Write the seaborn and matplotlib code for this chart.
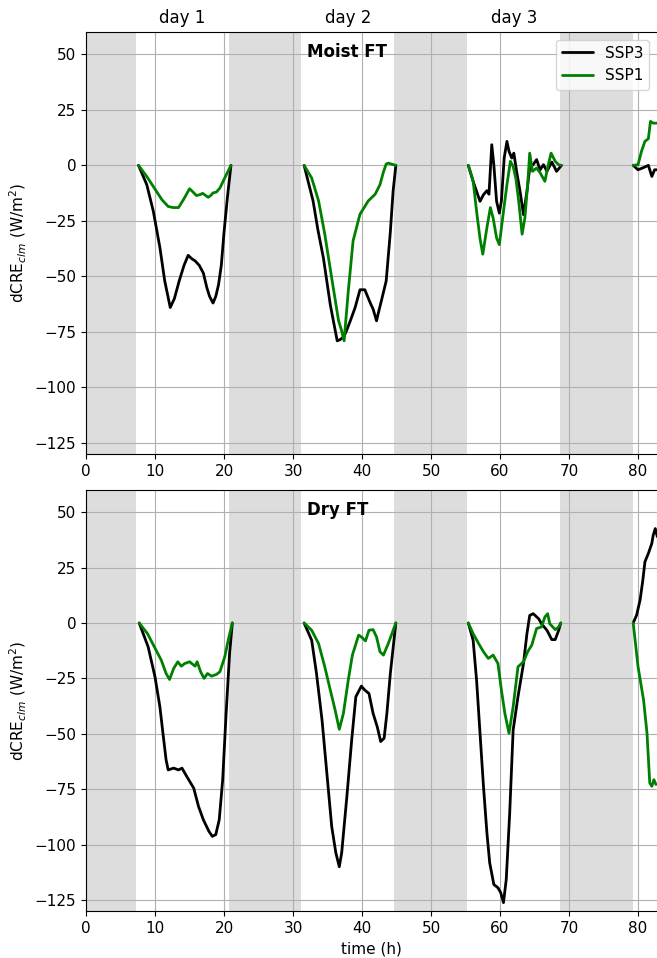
import numpy as np
import pandas as pd
import matplotlib.pyplot as plt
import matplotlib.transforms as mtransforms
import seaborn as sns

nan = np.nan

# night periods (h)
night_start = [-3.3, 20.7, 44.7, 68.7]
night_end = [7.2, 31.2, 55.2, 79.2]
day_pos = [14, 38, 62]
day_labels = ['day 1', 'day 2', 'day 3']

# Moist FT
moist_ssp3_t = [7.6, 8.8, 9.75, 10.7, 11.4, 12.2, 12.8, 13.5, 14.2, 14.8, 15.3, 15.8, 16.4, 17.0, 17.5, 17.9, 18.4, 18.8, 19.2, 19.6, 20.0, 20.5, 21.0, nan,
                31.6, 32.9, 33.6, 34.4, 35.4, 36.4, 36.8, 37.4, 37.8, 38.3, 39.0, 39.7, 40.4, 40.8, 41.2, 41.6, 42.1, 42.4, 42.8, 43.5, 44.1, 44.5, 44.9, nan,
                55.4, 56.1, 56.6, 57.1, 57.6, 58.1, 58.4, 58.8, 59.1, 59.5, 59.9, 60.2, 60.6, 61.0, 61.3, 61.7, 62.0, 62.4, 62.9, 63.4, 63.9, 64.3, 64.8, 65.3, 65.8, 66.3, 66.8, 67.5, 68.2, 68.9, nan,
                79.3, 80.0, 80.8, 81.5, 82.0, 82.4, 82.8]
moist_ssp3_v = [0, -8.7, -20.7, -37, -52, -64, -60, -52, -45, -40.5, -42, -43, -45, -48.5, -55, -59, -62, -59, -53.7, -45, -30, -14, 0, nan,
                0, -16, -29, -41.7, -62.8, -79, -78.5, -77, -74, -70, -64, -56, -56, -59, -62, -64.7, -70, -66, -61, -52, -30, -11.7, 0, nan,
                0, -7.2, -11.7, -16.2, -13.2, -11.4, -13, 9.3, 0.3, -16.2, -21.5, -16, 3.3, 10.8, 6.3, 3.3, 5.5, -2.7, -11.7, -22.2, -11.7, -1.2, 0.3, 2.6, -2, 0.3, -2.7, 1.5, -2.7, 0, nan,
                0, -2, -1, 0, -5, -2, -2]
moist_ssp1_t = [7.6, 8.8, 10.2, 11.0, 11.9, 12.6, 13.4, 14.2, 15.0, 15.5, 16.0, 16.5, 16.9, 17.3, 17.7, 18.1, 18.4, 18.9, 19.4, 20.2, 21.0, nan,
                31.6, 32.7, 33.7, 34.6, 35.6, 36.6, 37.0, 37.4, 38.0, 38.7, 39.7, 40.9, 41.9, 42.6, 43.1, 43.5, 43.8, 44.9, nan,
                55.4, 56.1, 56.6, 57.1, 57.5, 58.1, 58.6, 59.0, 59.5, 59.9, 60.5, 61.0, 61.5, 61.9, 62.3, 62.7, 63.2, 63.6, 64.0, 64.3, 64.7, 65.3, 65.8, 66.5, 66.9, 67.4, 68.0, 68.5, 68.8, nan,
                79.3, 80.0, 80.5, 81.0, 81.5, 81.8, 82.2, 82.8]
moist_ssp1_v = [0, -5, -11.7, -15.5, -18.5, -19, -19, -15, -10.5, -12, -13.6, -13.2, -12.6, -13.5, -14.4, -13.5, -12.4, -12, -10.2, -5, 0, nan,
                0, -5.7, -16, -31, -50.7, -70, -74, -79, -56.8, -34, -22, -16, -13, -8.7, -3, 0.6, 1, 0, nan,
                0, -7, -20.7, -33, -40, -28, -19, -23.7, -32.7, -35.7, -20.7, -8.7, 1.8, -0.5, -6, -16, -31, -23.7, -8.7, 5.5, -2.7, -1.2, -3.3, -7.2, -1, 5.5, 1.8, 0.3, 0, nan,
                0, 0.3, 6.3, 10.8, 12, 19.8, 19, 19]

# Dry FT
dry_ssp3_t = [7.7, 9.0, 9.99, 10.7, 11.2, 11.6, 11.9, 12.7, 13.4, 13.9, 14.6, 15.6, 16.3, 17.0, 17.8, 18.3, 18.8, 19.3, 19.8, 20.3, 20.8, 21.2, nan,
              31.6, 32.7, 33.4, 34.2, 34.9, 35.6, 36.2, 36.7, 37.05, 37.8, 38.5, 39.1, 39.9, 40.4, 41.0, 41.6, 42.2, 42.7, 43.2, 43.6, 44.1, 44.9, nan,
              55.4, 56.1, 56.6, 57.1, 57.6, 58.1, 58.5, 59.1, 59.7, 60.1, 60.5, 60.9, 61.4, 61.9, 62.6, 63.4, 63.9, 64.3, 64.8, 65.6, 66.0, 66.8, 67.5, 68.0, 68.5, 68.8, nan,
              79.3, 79.8, 80.3, 80.7, 81.0, 81.5, 82.0, 82.2, 82.5, 82.8]
dry_ssp3_v = [0, -10.8, -24.3, -37.8, -51.3, -61.8, -66.3, -65.5, -66.3, -65.5, -69.3, -74.5, -82.8, -88.8, -94, -96.3, -95.5, -88.8, -70.8, -40.8, -13.8, 0, nan,
              0, -7.8, -22.8, -43.8, -67.8, -91.8, -103.7, -110, -103.7, -78.3, -52.8, -33.3, -28.5, -30.3, -31.8, -40.8, -46.8, -53.5, -52, -40.8, -22.8, 0, nan,
              0, -7.8, -25.8, -49.8, -73.8, -94.8, -108.2, -118, -119.5, -121.7, -126.2, -115.7, -85.8, -48.3, -33.3, -18.3, -4.8, 3.4, 4.2, 1.9, -0.3, -3.3, -7.5, -7.5, -3.3, 0, nan,
              0, 3.6, 10.4, 19.4, 27.6, 31.4, 35.9, 39.6, 42.6, 38.9]
dry_ssp1_t = [7.7, 8.9, 9.9, 10.9, 11.6, 12.1, 12.7, 13.3, 13.8, 14.3, 15.0, 15.8, 16.1, 16.6, 17.1, 17.6, 18.2, 18.9, 19.4, 20.1, 20.6, 21.2, nan,
              31.6, 32.7, 33.7, 34.6, 35.4, 36.1, 36.7, 37.3, 38.0, 38.6, 39.5, 39.9, 40.5, 41.0, 41.6, 42.1, 42.6, 43.1, 43.8, 44.9, nan,
              55.4, 56.1, 56.9, 57.6, 58.3, 59.0, 59.7, 60.2, 60.7, 61.3, 61.9, 62.6, 63.4, 64.0, 64.6, 65.3, 66.0, 66.5, 66.9, 67.2, 68.0, 68.5, 68.8, nan,
              79.3, 80.0, 80.8, 81.3, 81.7, 82.0, 82.3, 82.6]
dry_ssp1_v = [0, -4.8, -10.8, -16.8, -22.8, -25.5, -20.5, -17.5, -19.5, -18.3, -17.5, -19.5, -17.5, -22, -25, -22.8, -24, -23.2, -22, -15.3, -7.8, 0, nan,
              0, -3.3, -9.3, -19.8, -30.3, -39.3, -48, -40.8, -25.8, -14.5, -5.5, -6.3, -8.1, -3.3, -3, -6.3, -13, -14.5, -9.3, 0, nan,
              0, -4.8, -9.3, -13, -16, -14.5, -18.3, -30.3, -40.8, -49.8, -37.8, -19.8, -17.5, -13, -10, -2.5, -1.8, 2.7, 4.2, -0.3, -3, -1.8, 0, nan,
              0, -19.7, -34.7, -49.7, -72.2, -73.7, -70.7, -72.9]


def to_frame(t, v, name):
    df = pd.DataFrame({'time': t, 'dcre': v})
    df['seg'] = df['dcre'].isna().cumsum()
    df['run'] = name
    return df.dropna()


panels = [
    ('Moist FT', pd.concat([to_frame(moist_ssp3_t, moist_ssp3_v, 'SSP3'),
                            to_frame(moist_ssp1_t, moist_ssp1_v, 'SSP1')])),
    ('Dry FT', pd.concat([to_frame(dry_ssp3_t, dry_ssp3_v, 'SSP3'),
                          to_frame(dry_ssp1_t, dry_ssp1_v, 'SSP1')])),
]

sns.set_style('ticks', {'text.color': 'black', 'axes.labelcolor': 'black',
                        'xtick.color': 'black', 'ytick.color': 'black',
                        'axes.edgecolor': 'black'})
fig = plt.figure(figsize=(6.57, 9.58), dpi=100)
ax1 = fig.add_axes([0.131, 0.526, 0.869, 0.4405])
ax2 = fig.add_axes([0.131, 0.049, 0.869, 0.4395])

for i, (ax, (title, df)) in enumerate(zip([ax1, ax2], panels)):
    for s, e in zip(night_start, night_end):
        ax.axvspan(s, e, color='#dddddd', lw=0, zorder=0.5)
    sns.lineplot(data=df, x='time', y='dcre', hue='run', units='seg', estimator=None,
                 hue_order=['SSP3', 'SSP1'], palette={'SSP3': 'black', 'SSP1': 'green'},
                 linewidth=2, sort=False, ax=ax, legend=(i == 0))
    ax.set_axisbelow('line')
    ax.grid(True, color='#b0b0b0', linewidth=0.8, zorder=1.5)
    ax.set_xlim(0, 82.75)
    ax.set_ylim(-130, 60)
    ax.set_yticks([50, 25, 0, -25, -50, -75, -100, -125])
    ax.set_xticks(range(0, 81, 10))
    ax.tick_params(labelsize=11)
    ax.spines['right'].set_visible(False)
    ax.set_ylabel('dCRE$_{clm}$ (W/m$^2$)', fontsize=11)
    ax.set_xlabel('')
    ax.text(32, 0.952, title, transform=mtransforms.blended_transform_factory(ax.transData, ax.transAxes),
            fontsize=12, fontweight='bold', ha='left', va='center')

h, l = ax1.get_legend_handles_labels()
ax1.legend(h, l, loc='upper right', fontsize=11)
tr = mtransforms.blended_transform_factory(ax1.transData, ax1.transAxes)
for x, lab in zip(day_pos, day_labels):
    ax1.text(x, 1.033, lab, transform=tr, fontsize=12, ha='center', va='center')
ax2.set_xlabel('time (h)', fontsize=11)

fig.savefig('out.png', dpi=100)
